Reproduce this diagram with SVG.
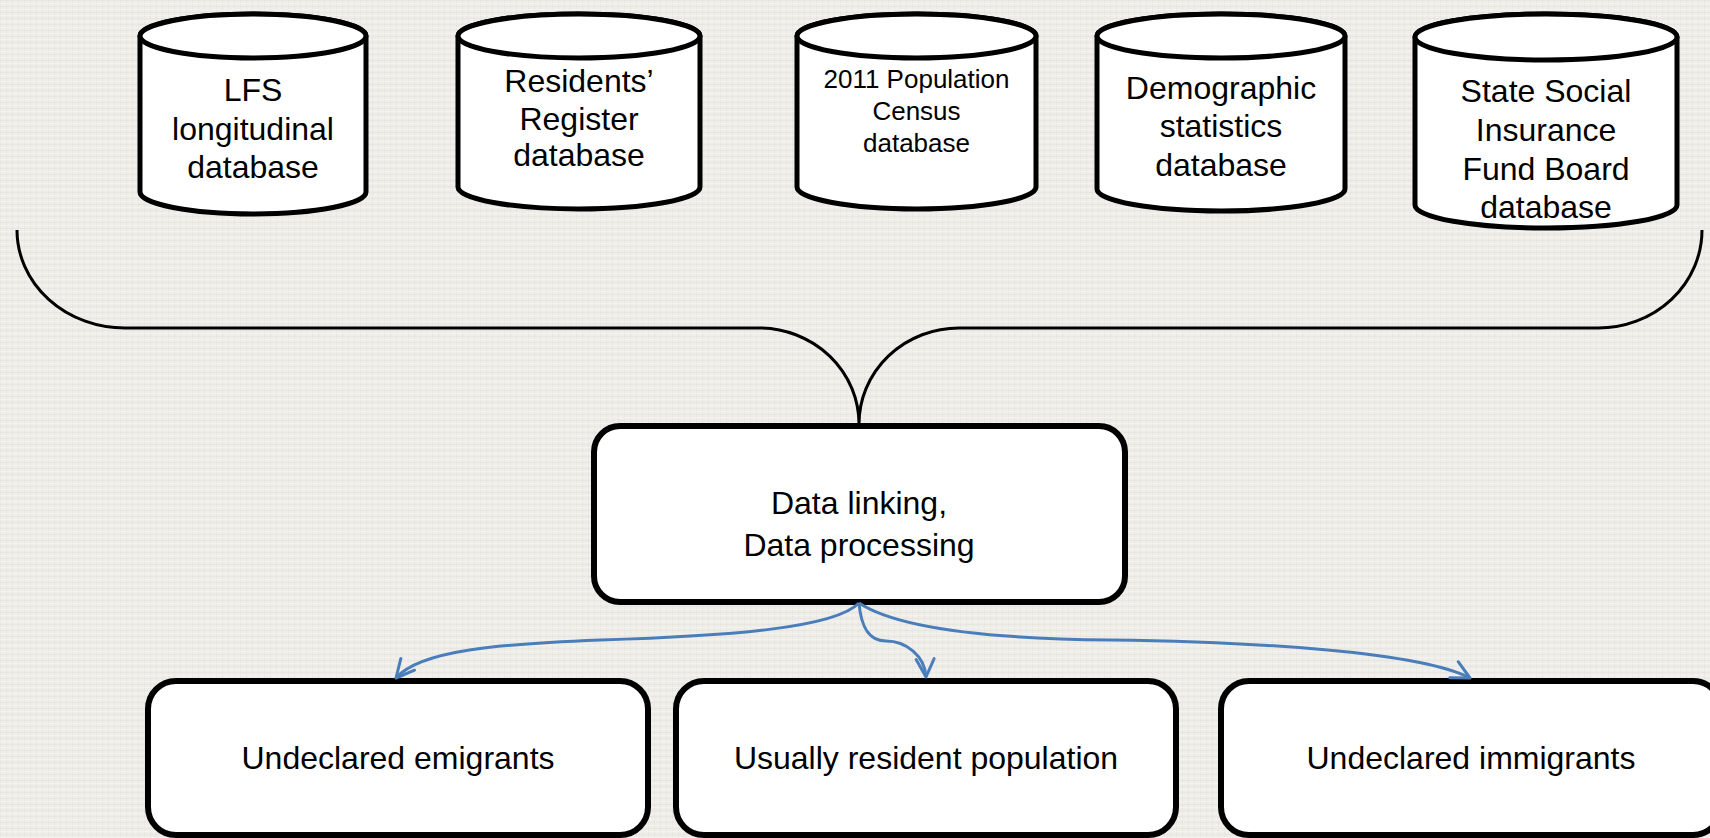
<svg xmlns="http://www.w3.org/2000/svg" width="1710" height="838" viewBox="0 0 1710 838">
  <defs>
    <pattern id="tex" width="6" height="6" patternUnits="userSpaceOnUse">
      <rect width="6" height="6" fill="#efeeea"/>
      <path d="M0,0.5 H6 M0.5,0 V6" stroke="#e7e6e1" stroke-width="1"/>
      <path d="M0,3.5 H6" stroke="#f3f2ef" stroke-width="1"/>
    </pattern>
    <marker id="arr" markerUnits="userSpaceOnUse" markerWidth="26" markerHeight="26" viewBox="-22 -13 26 26" refX="0" refY="0" orient="auto">
      <path d="M-18,-9 L0,0 L-18,9" fill="none" stroke="#4a7ebb" stroke-width="3" stroke-linecap="round" stroke-linejoin="round"/>
    </marker>
  </defs>
  <style>
    .cyl { fill: #ffffff; stroke: #000000; stroke-width: 5; }
    .box { fill: #ffffff; stroke: #000000; stroke-width: 6; }
    .t { font-family: "Liberation Sans", Arial, sans-serif; font-size: 32px; fill: #000000; text-anchor: middle; }
    .ts { font-family: "Liberation Sans", Arial, sans-serif; font-size: 26px; fill: #000000; text-anchor: middle; }
    .brace { fill: none; stroke: #000000; stroke-width: 3; }
    .arrow { fill: none; stroke: #4a7ebb; stroke-width: 3; marker-end: url(#arr); }
  </style>
  <rect width="1710" height="838" fill="url(#tex)"/>

  <g id="db-lfs">
    <path class="cyl" d="M140,36 A113,22 0 0 1 366,36 L366,192 A113,22 0 0 1 140,192 Z"/>
    <ellipse class="cyl" cx="253" cy="36" rx="113" ry="22"/>
    <text class="t" x="253" y="101">LFS</text>
    <text class="t" x="253" y="140">longitudinal</text>
    <text class="t" x="253" y="178">database</text>
  </g>

  <g id="db-residents">
    <path class="cyl" d="M458,36 A121,22 0 0 1 700,36 L700,187 A121,22 0 0 1 458,187 Z"/>
    <ellipse class="cyl" cx="579" cy="36" rx="121" ry="22"/>
    <text class="t" x="579" y="92">Residents’</text>
    <text class="t" x="579" y="130">Register</text>
    <text class="t" x="579" y="166">database</text>
  </g>

  <g id="db-census">
    <path class="cyl" d="M797,36 A119.5,22 0 0 1 1036,36 L1036,187 A119.5,22 0 0 1 797,187 Z"/>
    <ellipse class="cyl" cx="916.5" cy="36" rx="119.5" ry="22"/>
    <text class="ts" x="916.5" y="88">2011 Population</text>
    <text class="ts" x="916.5" y="120">Census</text>
    <text class="ts" x="916.5" y="152">database</text>
  </g>

  <g id="db-demographic">
    <path class="cyl" d="M1097,36 A124,22 0 0 1 1345,36 L1345,189 A124,22 0 0 1 1097,189 Z"/>
    <ellipse class="cyl" cx="1221" cy="36" rx="124" ry="22"/>
    <text class="t" x="1221" y="99">Demographic</text>
    <text class="t" x="1221" y="137">statistics</text>
    <text class="t" x="1221" y="176">database</text>
  </g>

  <g id="db-ssifb">
    <path class="cyl" d="M1415,37 A131,23 0 0 1 1677,37 L1677,205 A131,23 0 0 1 1415,205 Z"/>
    <ellipse class="cyl" cx="1546" cy="37" rx="131" ry="23"/>
    <text class="t" x="1546" y="102">State Social</text>
    <text class="t" x="1546" y="141">Insurance</text>
    <text class="t" x="1546" y="180">Fund Board</text>
    <text class="t" x="1546" y="218">database</text>
  </g>

  <g id="processing">
    <rect class="box" x="594" y="426" width="531" height="176" rx="26" ry="26"/>
    <text class="t" x="859" y="514">Data linking,</text>
    <text class="t" x="859" y="556">Data processing</text>
  </g>

  <g id="out-emigrants">
    <rect class="box" x="148" y="681" width="500" height="154" rx="28" ry="28"/>
    <text class="t" x="398" y="769">Undeclared emigrants</text>
  </g>

  <g id="out-resident">
    <rect class="box" x="676" y="681" width="500" height="154" rx="28" ry="28"/>
    <text class="t" x="926" y="769">Usually resident population</text>
  </g>

  <g id="out-immigrants">
    <rect class="box" x="1221" y="681" width="500" height="154" rx="28" ry="28"/>
    <text class="t" x="1471" y="769">Undeclared immigrants</text>
  </g>

  <g id="connectors">
    <path class="brace" d="M17,230 A108,98 0 0 0 125,328 L759,328 A100,96 0 0 1 859,424 A100,96 0 0 1 959,328 L1598,328 A104,98 0 0 0 1702,230"/>
    <path class="arrow" d="M859,603 C835,628 730,636 600,640 C500,644 420,650 396,678"/>
    <path class="arrow" d="M859,603 C861,626 868,641 886,641 C906,641 925,656 926,677"/>
    <path class="arrow" d="M859,603 C900,630 1000,639 1110,640 C1260,642 1420,652 1470,678"/>
  </g>
</svg>
